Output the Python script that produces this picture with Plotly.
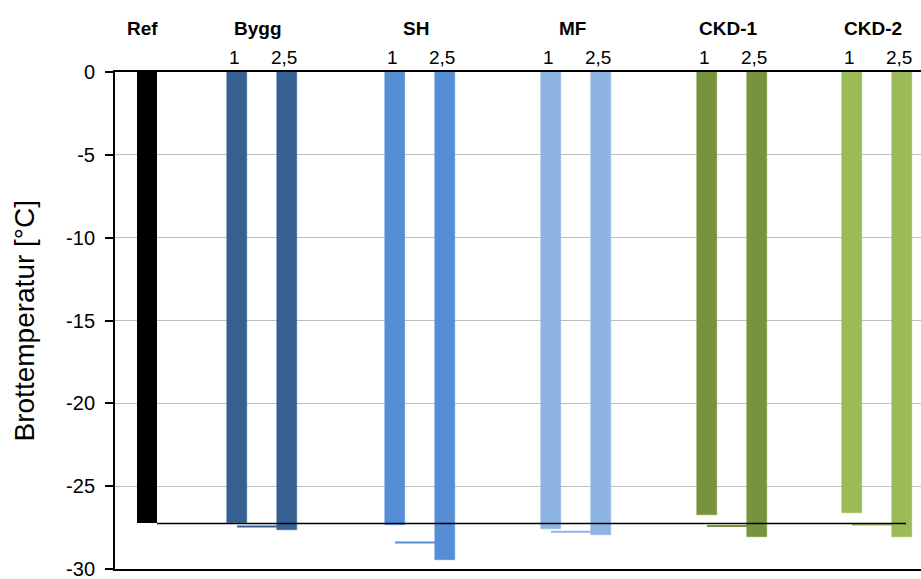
import plotly.graph_objects as go

# ---- data ----
groups = ["Bygg", "SH", "MF", "CKD-1", "CKD-2"]
sub_labels = ["1", "2,5"]
ref_label = "Ref"
ref_value = -27.25
values_1 = [-27.2, -27.36, -27.56, -26.77, -26.6]
values_25 = [-27.66, -29.45, -27.94, -28.04, -28.04]
avg_values = [-27.43, -28.40, -27.75, -27.40, -27.32]
colors = ["#376092", "#558ED5", "#8EB4E3", "#77933C", "#9BBB59"]
y_ticks = [0, -5, -10, -15, -20, -25, -30]

# ---- layout positions (axis units; 1 unit = bar pitch) ----
ref_pos = 0.64
group_pos = [2.94, 6.10, 9.22, 12.34, 15.24]
half = 0.5
bar_w = 0.4

fig = go.Figure()

# reference bar
fig.add_trace(go.Bar(x=[ref_pos], y=[ref_value], width=bar_w, marker_color="black",
                     marker_line_width=0, showlegend=False))

for g, c, v1, v2 in zip(group_pos, colors, values_1, values_25):
    fig.add_trace(go.Bar(x=[g - half, g + half], y=[v1, v2], width=bar_w,
                         marker=dict(color=c, line=dict(color=c, width=0.5)),
                         showlegend=False))

# average lines between pairs
for g, c, a in zip(group_pos, colors, avg_values):
    fig.add_trace(go.Scatter(x=[g - half, g + half - bar_w / 2], y=[a, a], mode="lines",
                             line=dict(color=c, width=2), showlegend=False,
                             hoverinfo="skip"))

# reference level line
fig.add_trace(go.Scatter(x=[ref_pos + bar_w / 2, group_pos[-1] + half + 0.08],
                         y=[ref_value, ref_value], mode="lines",
                         line=dict(color="black", width=1.5), showlegend=False))

annotations = []
annotations.append(dict(x=ref_pos, y=1.0885, xref="x", yref="paper", text="<b>%s</b>" % ref_label,
                        showarrow=False, xshift=-5, font=dict(size=19, color="black"),
                        yanchor="middle"))
for g, name in zip(group_pos, groups):
    annotations.append(dict(x=g, y=1.0885, xref="x", yref="paper", text="<b>%s</b>" % name,
                            showarrow=False, xshift=-4, font=dict(size=19, color="black"),
                            yanchor="middle"))
    for off, lab in zip([-half, half], sub_labels):
        annotations.append(dict(x=g + off, y=1.030, xref="x", yref="paper", text=lab,
                                showarrow=False, xshift=-3, font=dict(size=19, color="black"),
                                yanchor="middle"))
annotations.append(dict(x=-0.1117, y=0.5, xref="paper", yref="paper",
                        text="Brottemperatur [°C]", textangle=-90, showarrow=False,
                        font=dict(size=28, color="black"), xanchor="center", yanchor="middle"))

fig.update_layout(
    width=921, height=579,
    margin=dict(l=115, r=0, t=72, b=10),
    paper_bgcolor="white", plot_bgcolor="white",
    font=dict(family="Liberation Sans, Arial, sans-serif", color="black"),
    annotations=annotations,
    bargap=0,
    xaxis=dict(range=[0, 16.12], showticklabels=False, showgrid=False, zeroline=False,
               showline=True, mirror=True, linecolor="black", linewidth=2, ticks=""),
    yaxis=dict(range=[-30, 0], tickvals=y_ticks, ticktext=[str(t) for t in y_ticks],
               showgrid=True, gridcolor="#BFBFBF", gridwidth=1, zeroline=False,
               showline=True, linecolor="black", linewidth=2, ticks="outside",
               ticklen=8, tickcolor="black", tickwidth=1.5,
               tickfont=dict(size=20, color="black"), ticklabelstandoff=6,
               ticklabeloverflow="allow"),
)

fig.write_html(
    "out.html",
    config={"displayModeBar": False},
    post_script="document.body.style.margin='0';document.body.style.overflow='hidden';"
                "document.documentElement.style.overflow='hidden';",
)
